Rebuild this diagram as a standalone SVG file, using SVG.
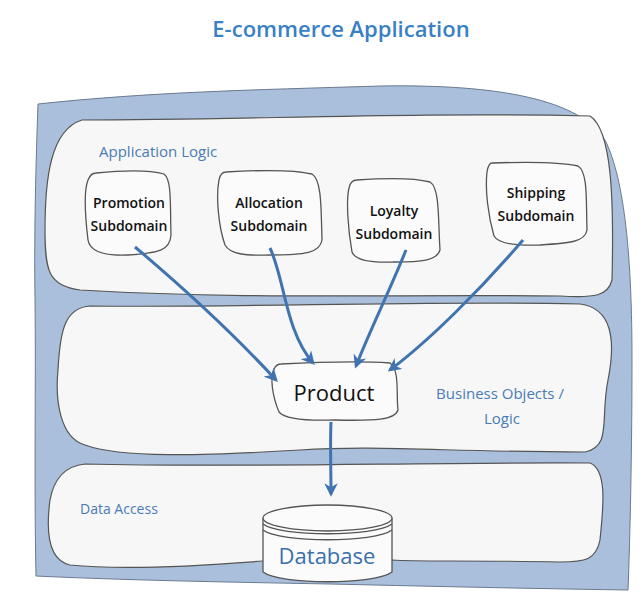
<svg xmlns="http://www.w3.org/2000/svg" width="643" height="596" viewBox="0 0 643 596">
<style>
.panel{fill:#f7f7f7;stroke:#555;stroke-width:1.2}
.box{fill:#fbfbfb;stroke:#555;stroke-width:1.3}
.lbl{font-family:"Open Sans","DejaVu Sans",sans-serif;fill:#4a7bb5}
.nt{font-family:"Open Sans","DejaVu Sans",sans-serif;fill:#111;font-size:14px;font-weight:600;text-anchor:middle}
.conn{fill:none;stroke:#3f74b0;stroke-width:3;marker-end:url(#ah)}
</style>
<defs>
<marker id="ah" viewBox="0 0 10 10" refX="8" refY="5" markerWidth="4.5" markerHeight="4.5" orient="auto-start-reverse" markerUnits="strokeWidth">
<path d="M0,0 L10,5 L0,10 L3,5 Z" fill="#3f74b0"/>
</marker>
</defs>
<rect width="643" height="596" fill="#ffffff"/>
<text x="341" y="37" text-anchor="middle" class="lbl" style="font-size:22px;font-weight:600;fill:#3a80c4">E-commerce Application</text>

<g id="outer">
<path d="M38,104 C150,92 250,90 380,86 C500,84 580,100 605,140 C625,180 632,260 632,360 C632,450 630,540 628,590 C500,588 420,586 330,584 C220,582 120,580 36,576 C34,480 36,380 35,300 C34,230 36,160 38,104 Z" fill="#a9bfdb" stroke="#6a7a90" stroke-width="1"/>
</g>

<g id="app-logic">
<path class="panel" d="M82,120 C250,120 400,112 590,116 C612,130 614,200 612,280 C608,296 595,298 560,296 C400,294 250,300 80,290 C48,286 45,270 45,230 C45,180 50,130 82,120 Z"/>
<text x="99" y="157" class="lbl" style="font-size:15px">Application Logic</text>
</g>

<g id="business">
<path class="panel" d="M90,306 C250,308 420,300 580,304 C612,308 616,340 608,380 C600,420 612,446 585,452 C450,452 380,445 300,450 C200,456 120,458 85,445 C60,438 55,400 58,370 C60,330 65,308 90,306 Z"/>
<text x="500" y="399" class="lbl" text-anchor="middle" style="font-size:15px">Business Objects /</text>
<text x="502" y="424" class="lbl" text-anchor="middle" style="font-size:15px">Logic</text>
</g>

<g id="data-access">
<path class="panel" d="M85,464 C250,468 420,462 590,463 C608,470 603,510 600,540 C596,560 585,562 560,562 C470,560 420,562 392,560 L263,561 C200,566 120,570 70,565 C48,560 46,530 50,500 C54,478 65,466 85,464 Z"/>
<text x="80" y="514" class="lbl" style="font-size:14px">Data Access</text>
</g>

<g id="promotion">
<path class="box" d="M96,173 C125,170 150,170 164,174 C172,180 170,205 171,235 C170,250 160,253 128,255 C105,256 90,252 88,240 C85,215 84,190 88,180 C90,175 92,173 96,173 Z"/>
<text x="129" y="208" class="nt">Promotion</text>
<text x="129" y="231" class="nt">Subdomain</text>
</g>

<g id="allocation">
<path class="box" d="M226,172 C260,170 295,170 312,174 C322,180 321,210 322,240 C320,253 305,255 270,255 C245,256 230,254 225,245 C218,225 216,195 219,180 C220,175 222,172 226,172 Z"/>
<text x="269" y="208" class="nt">Allocation</text>
<text x="269" y="231" class="nt">Subdomain</text>
</g>

<g id="loyalty">
<path class="box" d="M357,180 C385,178 415,178 430,182 C440,188 438,220 440,250 C437,261 420,262 395,262 C372,263 355,260 352,252 C348,230 346,200 349,188 C350,183 353,180 357,180 Z"/>
<text x="394" y="216" class="nt">Loyalty</text>
<text x="394" y="239" class="nt">Subdomain</text>
</g>

<g id="shipping">
<path class="box" d="M492,163 C520,162 560,162 578,166 C588,172 586,200 587,230 C585,242 570,243 540,245 C515,246 498,243 494,236 C488,215 485,190 487,172 C488,166 490,163 492,163 Z"/>
<text x="536" y="198" class="nt">Shipping</text>
<text x="536" y="221" class="nt">Subdomain</text>
</g>

<g id="product">
<path class="box" d="M281,364 C320,362 360,361 390,363 C400,370 396,395 398,410 C395,420 375,421 335,420 C305,421 285,419 279,412 C272,395 270,378 274,369 C276,365 278,364 281,364 Z"/>
<text x="334" y="401" class="nt" style="font-size:22px;font-weight:400">Product</text>
</g>

<g id="database">
<path d="M263,518 L263,572 C280,585 375,585 392,572 L392,518" fill="#fbfbfb" stroke="#555" stroke-width="1.3"/>
<ellipse cx="327.5" cy="518" rx="64.5" ry="13" fill="#fbfbfb" stroke="#555" stroke-width="1.3"/>
<path d="M263,524 C280,537 375,537 392,524 M263,530 C280,543 375,543 392,530" fill="none" stroke="#555" stroke-width="1.3"/>
<text x="327" y="564" class="lbl" text-anchor="middle" style="font-size:22px;fill:#3a6fae">Database</text>
</g>

<g id="connectors">
<path class="conn" d="M135,247 C180,285 230,330 276,380"/>
<path class="conn" d="M270,248 C285,280 285,330 313,363"/>
<path class="conn" d="M406,250 C390,290 370,330 356,366"/>
<path class="conn" d="M523,240 C480,290 430,340 390,370"/>
<path class="conn" d="M331,422 C330,445 331,470 331,494"/>
</g>
</svg>
